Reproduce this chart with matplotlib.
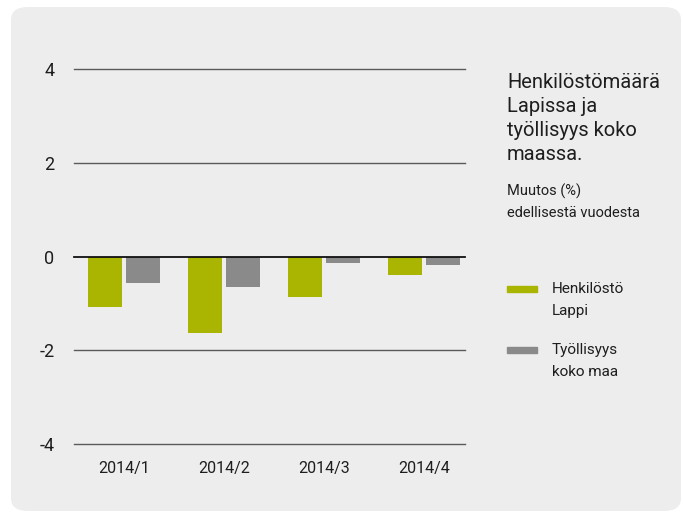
import matplotlib
matplotlib.use('Agg')
import matplotlib.pyplot as plt
from matplotlib.patches import FancyBboxPatch
import numpy as np

plt.rcParams['font.family'] = ['Roboto', 'DejaVu Sans']

categories = ['2014/1', '2014/2', '2014/3', '2014/4']
henkilosto_lappi = [-1.07, -1.64, -0.87, -0.40]
tyollisyys_maa = [-0.57, -0.66, -0.13, -0.19]
yticks = [-4, -2, 0, 2, 4]

title = 'Henkilöstömäärä\nLapissa ja\ntyöllisyys koko\nmaassa.'
subtitle = 'Muutos (%)\nedellisestä vuodesta'
series_labels = ['Henkilöstö\nLappi', 'Työllisyys\nkoko maa']

green = '#a9b500'
gray = '#8a8a8b'
bg = '#ededed'
txt = '#1e1e1e'

W, H = 683, 512
fig = plt.figure(figsize=(W / 100, H / 100), dpi=100, facecolor='white')

# rounded background panel
panel = FancyBboxPatch((11 / W, 1 - 511 / H), (681 - 11) / W, (511 - 7) / H,
                       boxstyle='round,pad=0,rounding_size=0.025',
                       transform=fig.transFigure, facecolor=bg, edgecolor='none',
                       zorder=-5)
fig.patches.append(panel)

# axes: x from 74 to 465 px, y from 4 at 69px to -4 at 444px
ax = fig.add_axes([74 / W, 1 - 444 / H, (465 - 74) / W, (444 - 69) / H])
ax.set_zorder(2)
ax.set_facecolor('none')

x = np.arange(len(categories))
bw = 0.34
ax.bar(x - 0.19, henkilosto_lappi, width=bw, color=green, zorder=2)
ax.bar(x + 0.19, tyollisyys_maa, width=bw, color=gray, zorder=2)

for y in yticks:
    ax.axhline(y, color='#111111' if y == 0 else '#5a5a5a',
               lw=1.3 if y == 0 else 1.0, zorder=3 if y == 0 else 1,
               clip_on=False)

ax.set_xlim(-0.5, 3.41)
ax.set_ylim(-4, 4)
ax.set_yticks(yticks)
ax.set_yticklabels([str(v) for v in yticks], fontsize=13, color=txt)
ax.set_xticks(x)
ax.set_xticklabels(categories, fontsize=11.5, color=txt)
ax.tick_params(axis='y', length=0, pad=14)
ax.tick_params(axis='x', length=0, pad=12)
for s in ax.spines.values():
    s.set_visible(False)

# side texts
fig.text(507 / W, 1 - 73 / H, title, fontsize=14.5, color=txt, va='top',
         ha='left', linespacing=1.33)
fig.text(507 / W, 1 - 184 / H, subtitle, fontsize=10.5, color=txt, va='top',
         ha='left', linespacing=1.65)

# legend
for i, (lab, col) in enumerate(zip(series_labels, [green, gray])):
    yc = 289 + i * 61
    fig.patches.append(plt.Rectangle((507 / W, 1 - (yc + 3) / H), 30 / W, 6 / H,
                                     transform=fig.transFigure, color=col))
    fig.text(552 / W, 1 - (yc - 7) / H, lab, fontsize=11, color=txt,
             va='top', ha='left', linespacing=1.7)

fig.savefig('out.png', dpi=100, facecolor='white')
